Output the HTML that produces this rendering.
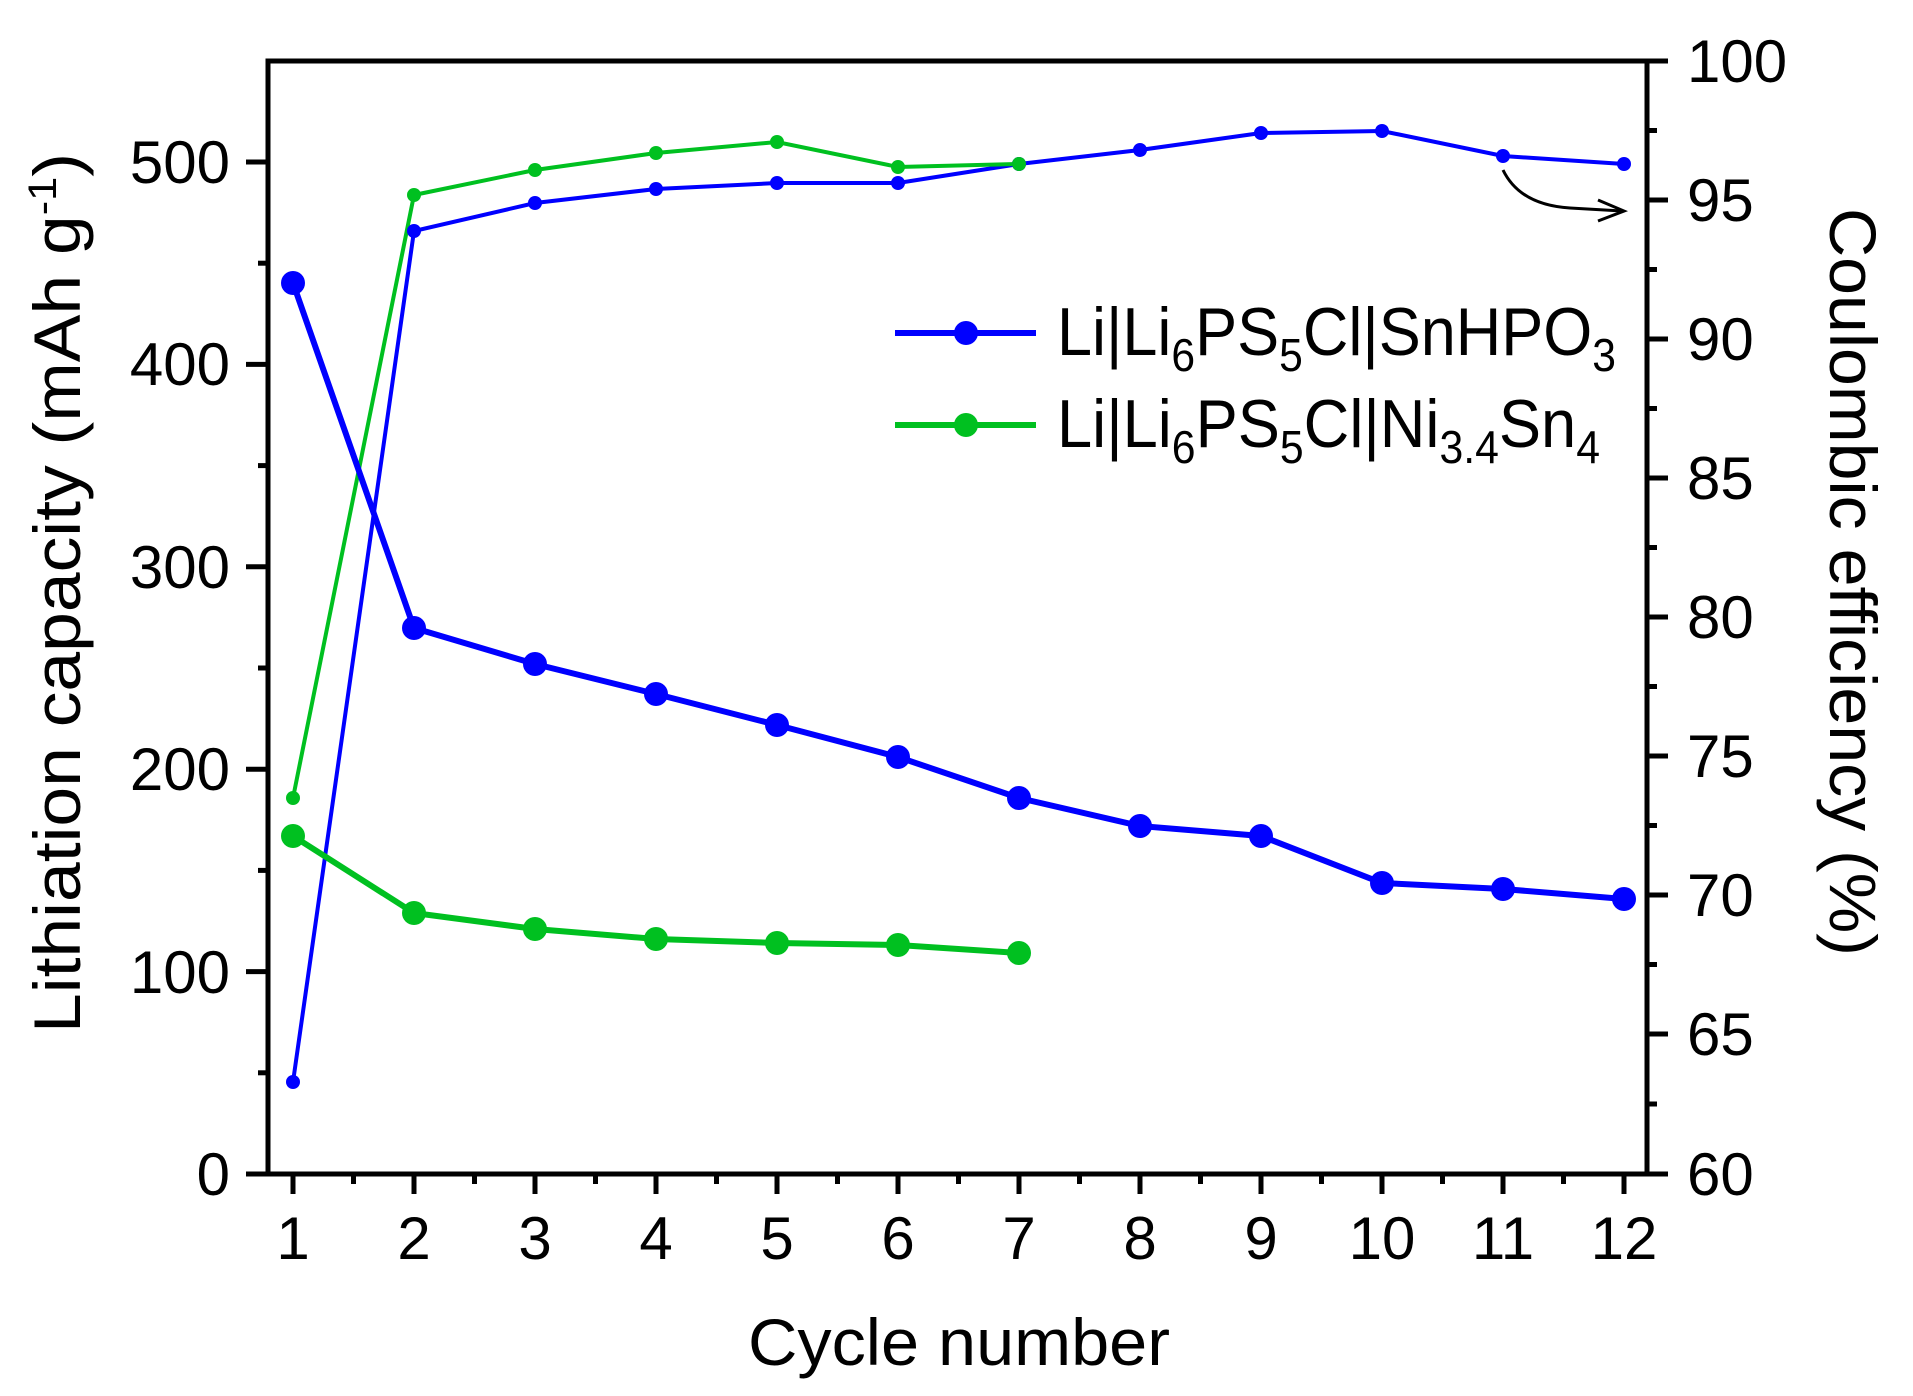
<!DOCTYPE html>
<html><head><meta charset="utf-8"><style>html,body{margin:0;padding:0;background:#fff}svg{display:block}</style></head><body>
<svg width="1913" height="1396" viewBox="0 0 1913 1396" xmlns="http://www.w3.org/2000/svg" font-family="Liberation Sans, Arial, sans-serif">
<rect width="1913" height="1396" fill="#fff"/>
<rect x="268" y="61" width="1379" height="1113" fill="none" stroke="#000" stroke-width="5"/>
<g stroke="#000" stroke-width="5">
<line x1="246" y1="1174" x2="268" y2="1174"/><line x1="246" y1="971.6" x2="268" y2="971.6"/><line x1="246" y1="769.2" x2="268" y2="769.2"/><line x1="246" y1="566.8" x2="268" y2="566.8"/><line x1="246" y1="364.4" x2="268" y2="364.4"/><line x1="246" y1="162" x2="268" y2="162"/>
<line x1="258" y1="1072.8" x2="268" y2="1072.8"/><line x1="258" y1="870.4" x2="268" y2="870.4"/><line x1="258" y1="668" x2="268" y2="668"/><line x1="258" y1="465.6" x2="268" y2="465.6"/><line x1="258" y1="263.2" x2="268" y2="263.2"/>
<line x1="1647" y1="61" x2="1668" y2="61"/><line x1="1647" y1="200" x2="1668" y2="200"/><line x1="1647" y1="339" x2="1668" y2="339"/><line x1="1647" y1="478" x2="1668" y2="478"/><line x1="1647" y1="617" x2="1668" y2="617"/><line x1="1647" y1="756" x2="1668" y2="756"/><line x1="1647" y1="895" x2="1668" y2="895"/><line x1="1647" y1="1034" x2="1668" y2="1034"/><line x1="1647" y1="1174" x2="1668" y2="1174"/>
<line x1="1647" y1="130.5" x2="1657" y2="130.5"/><line x1="1647" y1="269.5" x2="1657" y2="269.5"/><line x1="1647" y1="408.5" x2="1657" y2="408.5"/><line x1="1647" y1="547.5" x2="1657" y2="547.5"/><line x1="1647" y1="686.5" x2="1657" y2="686.5"/><line x1="1647" y1="825.5" x2="1657" y2="825.5"/><line x1="1647" y1="964.5" x2="1657" y2="964.5"/><line x1="1647" y1="1104" x2="1657" y2="1104"/>
<line x1="293" y1="1174" x2="293" y2="1194"/><line x1="414" y1="1174" x2="414" y2="1194"/><line x1="535" y1="1174" x2="535" y2="1194"/><line x1="656" y1="1174" x2="656" y2="1194"/><line x1="777" y1="1174" x2="777" y2="1194"/><line x1="898" y1="1174" x2="898" y2="1194"/><line x1="1019" y1="1174" x2="1019" y2="1194"/><line x1="1140" y1="1174" x2="1140" y2="1194"/><line x1="1261" y1="1174" x2="1261" y2="1194"/><line x1="1382" y1="1174" x2="1382" y2="1194"/><line x1="1503" y1="1174" x2="1503" y2="1194"/><line x1="1624" y1="1174" x2="1624" y2="1194"/>
<line x1="353.5" y1="1174" x2="353.5" y2="1184"/><line x1="474.5" y1="1174" x2="474.5" y2="1184"/><line x1="595.5" y1="1174" x2="595.5" y2="1184"/><line x1="716.5" y1="1174" x2="716.5" y2="1184"/><line x1="837.5" y1="1174" x2="837.5" y2="1184"/><line x1="958.5" y1="1174" x2="958.5" y2="1184"/><line x1="1079.5" y1="1174" x2="1079.5" y2="1184"/><line x1="1200.5" y1="1174" x2="1200.5" y2="1184"/><line x1="1321.5" y1="1174" x2="1321.5" y2="1184"/><line x1="1442.5" y1="1174" x2="1442.5" y2="1184"/><line x1="1563.5" y1="1174" x2="1563.5" y2="1184"/>
</g>
<g font-size="60" fill="#000" text-anchor="end">
<text x="230" y="1195">0</text><text x="230" y="993">100</text><text x="230" y="790">200</text><text x="230" y="588">300</text><text x="230" y="385">400</text><text x="230" y="183">500</text>
</g>
<g font-size="60" fill="#000" text-anchor="start">
<text x="1687" y="82">100</text><text x="1687" y="221">95</text><text x="1687" y="360">90</text><text x="1687" y="499">85</text><text x="1687" y="638">80</text><text x="1687" y="777">75</text><text x="1687" y="916">70</text><text x="1687" y="1055">65</text><text x="1687" y="1195">60</text>
</g>
<g font-size="60" fill="#000" text-anchor="middle">
<text x="293" y="1259">1</text><text x="414" y="1259">2</text><text x="535" y="1259">3</text><text x="656" y="1259">4</text><text x="777" y="1259">5</text><text x="898" y="1259">6</text><text x="1019" y="1259">7</text><text x="1140" y="1259">8</text><text x="1261" y="1259">9</text><text x="1382" y="1259">10</text><text x="1503" y="1259">11</text><text x="1624" y="1259">12</text>
</g>
<text x="748" y="1365" font-size="66" textLength="422" lengthAdjust="spacingAndGlyphs">Cycle number</text>
<text transform="translate(80,1033) rotate(-90)" font-size="66" textLength="880" lengthAdjust="spacingAndGlyphs">Lithiation capacity (mAh g<tspan dy="-24" font-size="40">-1</tspan><tspan dy="24">)</tspan></text>
<text transform="translate(1830,208) rotate(90)" font-size="66" textLength="748" lengthAdjust="spacingAndGlyphs">Coulombic efficiency (%)</text>
<polyline fill="none" stroke="#0000ff" stroke-width="4" points="293,1082 414,231 535,203 656,189 777,183 898,183 1019,164 1140,150 1261,133 1382,131 1503,156 1624,164"/>
<polyline fill="none" stroke="#00c020" stroke-width="4" points="293,798 414,195 535,170 656,153 777,142 898,167 1019,164"/>
<g fill="#0000ff"><circle cx="293" cy="1082" r="7"/><circle cx="414" cy="231" r="7"/><circle cx="535" cy="203" r="7"/><circle cx="656" cy="189" r="7"/><circle cx="777" cy="183" r="7"/><circle cx="898" cy="183" r="7"/><circle cx="1019" cy="164" r="7"/><circle cx="1140" cy="150" r="7"/><circle cx="1261" cy="133" r="7"/><circle cx="1382" cy="131" r="7"/><circle cx="1503" cy="156" r="7"/><circle cx="1624" cy="164" r="7"/></g>
<g fill="#00c020"><circle cx="293" cy="798" r="7"/><circle cx="414" cy="195" r="7"/><circle cx="535" cy="170" r="7"/><circle cx="656" cy="153" r="7"/><circle cx="777" cy="142" r="7"/><circle cx="898" cy="167" r="7"/><circle cx="1019" cy="164" r="7"/></g>
<polyline fill="none" stroke="#0000ff" stroke-width="6" points="293,283 414,628 535,664 656,694 777,725 898,757 1019,798 1140,826 1261,836 1382,883 1503,889 1624,899"/>
<polyline fill="none" stroke="#00c020" stroke-width="6" points="293,836 414,913 535,929 656,939 777,943 898,945 1019,953"/>
<g fill="#0000ff"><circle cx="293" cy="283" r="12"/><circle cx="414" cy="628" r="12"/><circle cx="535" cy="664" r="12"/><circle cx="656" cy="694" r="12"/><circle cx="777" cy="725" r="12"/><circle cx="898" cy="757" r="12"/><circle cx="1019" cy="798" r="12"/><circle cx="1140" cy="826" r="12"/><circle cx="1261" cy="836" r="12"/><circle cx="1382" cy="883" r="12"/><circle cx="1503" cy="889" r="12"/><circle cx="1624" cy="899" r="12"/></g>
<g fill="#00c020"><circle cx="293" cy="836" r="12"/><circle cx="414" cy="913" r="12"/><circle cx="535" cy="929" r="12"/><circle cx="656" cy="939" r="12"/><circle cx="777" cy="943" r="12"/><circle cx="898" cy="945" r="12"/><circle cx="1019" cy="953" r="12"/></g>
<path d="M1503,170 Q1520,205 1570,208 L1622,211" fill="none" stroke="#000" stroke-width="3"/>
<path d="M1598,200 L1624,211 L1598,221" fill="none" stroke="#000" stroke-width="3"/>
<line x1="895" y1="333" x2="1036" y2="333" stroke="#0000ff" stroke-width="6"/><circle cx="966" cy="333" r="12" fill="#0000ff"/>
<line x1="895" y1="425" x2="1036" y2="425" stroke="#00c020" stroke-width="6"/><circle cx="966" cy="425" r="12" fill="#00c020"/>
<text x="1057" y="355" font-size="68" textLength="559" lengthAdjust="spacingAndGlyphs">Li|Li<tspan dy="16" font-size="46">6</tspan><tspan dy="-16">PS</tspan><tspan dy="16" font-size="46">5</tspan><tspan dy="-16">Cl|SnHPO</tspan><tspan dy="16" font-size="46">3</tspan></text>
<text x="1057" y="447" font-size="68" textLength="543" lengthAdjust="spacingAndGlyphs">Li|Li<tspan dy="16" font-size="46">6</tspan><tspan dy="-16">PS</tspan><tspan dy="16" font-size="46">5</tspan><tspan dy="-16">Cl|Ni</tspan><tspan dy="16" font-size="46">3.4</tspan><tspan dy="-16">Sn</tspan><tspan dy="16" font-size="46">4</tspan></text>
</svg>
</body></html>
